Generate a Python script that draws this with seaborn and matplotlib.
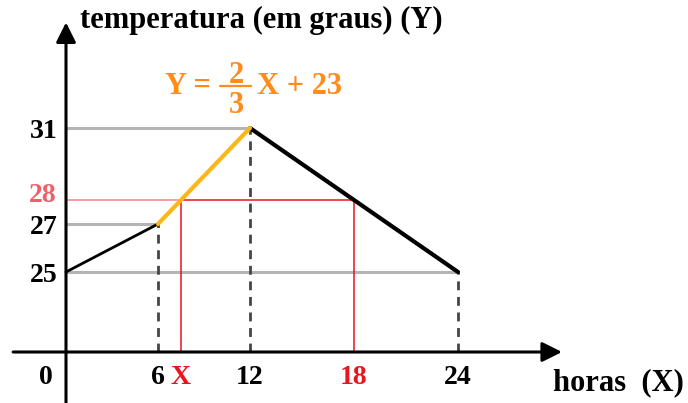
import numpy as np
import matplotlib
matplotlib.use("Agg")
import matplotlib.pyplot as plt
from matplotlib.lines import Line2D
import seaborn as sns

# Temperature over a day: piecewise-linear profile
hours = [0, 6, 12, 24]
temps = [25, 27, 31, 25]

# Segment described by the equation Y = 2/3 X + 23
eq_hours = [6, 12]
eq_temps = [27, 31]

# Level 28 degrees and the two hours where it is reached
level = 28
x_sol = 7.5
x_other = 18

x_ticks = [6, 7.5, 12, 18, 24]
x_labels = ["6", "X", "12", "18", "24"]
x_label_colors = ["black", "#e8141e", "black", "#e8141e", "black"]
y_ticks = [25, 27, 31]
y_labels = ["25", "27", "31"]

sns.set_style("white")
plt.rcParams["font.family"] = ["Liberation Serif", "DejaVu Serif"]
plt.rcParams["font.weight"] = "bold"
plt.rcParams["text.color"] = "black"
plt.rcParams["xtick.color"] = "black"
plt.rcParams["ytick.color"] = "black"
plt.rcParams["xtick.labelcolor"] = "black"
plt.rcParams["ytick.labelcolor"] = "black"


def piecewise(src, dst):
    """Piecewise-linear map with linear extension past the end knots."""
    src = np.asarray(src, float)
    dst = np.asarray(dst, float)

    def f(v):
        v = np.asarray(v, float)
        idx = np.clip(np.searchsorted(src, v) - 1, 0, len(src) - 2)
        x0, x1 = src[idx], src[idx + 1]
        y0, y1 = dst[idx], dst[idx + 1]
        return y0 + (v - x0) * (y1 - y0) / (x1 - x0)

    return f


# Schematic (broken) axes: hours and degrees are not drawn to one scale
fx = piecewise([0, 12, 24], [66, 250, 458])
ix = piecewise([66, 250, 458], [0, 12, 24])
fy = piecewise([0, 25, 31], [51, 131, 275])
iy = piecewise([51, 131, 275], [0, 25, 31])

W, H = 688, 403
fig = plt.figure(figsize=(W / 100, H / 100), dpi=100)
ax = fig.add_axes([0, 0, 1, 1])
ax.set_xscale("function", functions=(fx, ix))
ax.set_yscale("function", functions=(fy, iy))

gray = "#b4b4b4"
dash = "#454545"
red = "#e8141e"
pink = "#f4848c"
orange = "#ff8c1a"

# Gray guide lines from the y axis to each vertex
ax.plot([0, hours[2]], [temps[2], temps[2]], color=gray, lw=2.2, zorder=1)
ax.plot([0, hours[1]], [temps[1], temps[1]], color=gray, lw=2.2, zorder=1)
ax.plot([0, hours[3]], [temps[0], temps[0]], color=gray, lw=2.2, zorder=1)

# Dashed drops from vertices to the hour axis
for h, t in zip(hours[1:], temps[1:]):
    ax.plot([h, h], [0, t], color=dash, lw=2.0, ls=(0, (3.2, 2.4)), zorder=1)

# Level 28 and where it is reached
ax.plot([0, x_sol], [level, level], color=pink, lw=1.1, zorder=1)
ax.plot([x_sol, x_other], [level, level], color=red, lw=1.1, zorder=1)
ax.plot([x_sol, x_sol], [0, level], color=red, lw=1.1, zorder=1)
ax.plot([x_other, x_other], [0, level], color=red, lw=1.1, zorder=1)

# Temperature profile
sns.lineplot(x=hours[:2], y=temps[:2], ax=ax, color="black", lw=2.0, zorder=3)
sns.lineplot(x=hours[2:], y=temps[2:], ax=ax, color="black", lw=3.0, zorder=3)
sns.lineplot(x=eq_hours, y=eq_temps, ax=ax, color="#fbb715", lw=3.0, zorder=4)

# Axes with arrow heads
arrow = dict(arrowstyle="-|>,head_length=0.6,head_width=0.3", color="black",
             lw=2.2, shrinkA=0, shrinkB=0, mutation_scale=20)
ax.annotate("", xy=(30.0, 0), xytext=(-3.45, 0), arrowprops=arrow, zorder=5)
ax.annotate("", xy=(0, 35.4), xytext=(0, -20), arrowprops=arrow, zorder=5)

for s in ax.spines.values():
    s.set_visible(False)
ax.spines["bottom"].set_position(("data", 0))
ax.spines["left"].set_position(("data", 0))

fs = 20
ax.set_xticks(x_ticks, x_labels)
ax.set_yticks(y_ticks, y_labels)
ax.tick_params(axis="x", length=0, pad=9, labelsize=fs)
ax.tick_params(axis="y", length=0, pad=6, labelsize=fs)
for lab, c in zip(ax.get_xticklabels(), x_label_colors):
    lab.set_color(c)
    lab.set_fontweight("bold")
for lab in ax.get_yticklabels():
    lab.set_color("black")
    lab.set_fontweight("bold")

ax.annotate("0", xy=(0, 0), xytext=(-9.5, -9), textcoords="offset points",
            ha="right", va="top", fontsize=fs, fontweight="bold", color="black")
ax.annotate("28", xy=(0, level), xytext=(-6.5, 3.0), textcoords="offset points",
            ha="right", va="center", fontsize=fs, fontweight="bold", color="#f0606a")

fig.text(80 / W, 1 - 20 / H, "temperatura (em graus) (Y)", ha="left", va="center",
         fontsize=22, fontweight="bold", color="black")
fig.text(553 / W, 1 - 383 / H, "horas  (X)", ha="left", va="center",
         fontsize=22, fontweight="bold", color="black")

# Equation of the rising segment, set as a stacked fraction
eq_kw = dict(fontsize=22, fontweight="bold", color=orange, va="baseline")
fig.text(165 / W, 1 - 94 / H, "Y =", ha="left", **eq_kw)
fig.text(236 / W, 1 - 83 / H, "2", ha="center", **eq_kw)
fig.text(236 / W, 1 - 113 / H, "3", ha="center", **eq_kw)
fig.add_artist(Line2D([220 / W, 251 / W], [1 - 86 / H, 1 - 86 / H],
                      color=orange, lw=1.6, transform=fig.transFigure))
fig.text(257 / W, 1 - 94 / H, "X + 23", ha="left", **eq_kw)

ax.set_xlim(float(ix(0)), float(ix(W)))
ax.set_ylim(float(iy(0)), float(iy(H)))

fig.savefig("out.png", dpi=100)
